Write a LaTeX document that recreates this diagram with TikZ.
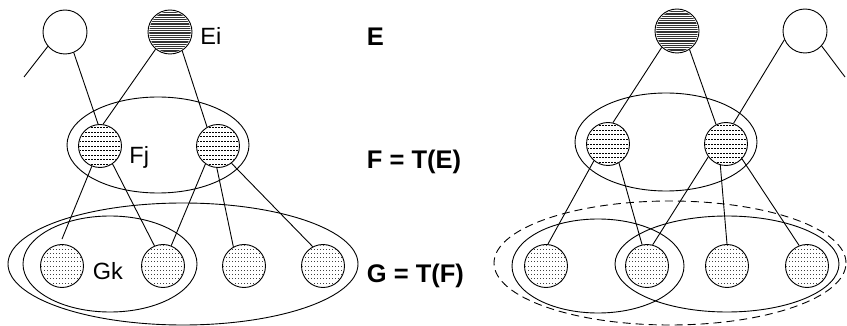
\documentclass[tikz,border=0pt]{standalone}
\usepackage{fontspec}
\setmainfont{Liberation Sans}
\usetikzlibrary{shapes.geometric}
\newcommand{\hatchnode}[3]{%
  \begin{scope}
    \clip (#1.center) circle[radius=20.8];
    \foreach \k in {-14,...,14}
      \draw[#3] (#1.center) ++(-24,\k*#2) -- ++(48,0);
  \end{scope}}
\begin{document}
\begin{tikzpicture}[x=1pt,y=-1pt,
  line width=0.9pt,
  vtx/.style={circle,draw,line width=0.9pt,minimum size=43pt,inner sep=0pt},
  topvtx/.style={vtx,minimum size=44pt},
  grp/.style={ellipse,draw,line width=0.9pt,inner sep=0pt},
  dgrp/.style={grp,dash pattern=on 8pt off 5pt},
  topfill/.style={line width=0.7pt,black!80},
  midfill/.style={line width=0.6pt,black,dash pattern=on 2pt off 1pt},
  lowfill/.style={line width=0.6pt,black!75,dash pattern=on 1pt off 2pt},
  lbl/.style={inner sep=0pt,anchor=base west,font=\fontsize{23.5}{27}\selectfont},
  blbl/.style={inner sep=0pt,anchor=base west,font=\fontsize{25.5}{29}\selectfont\bfseries}]
\useasboundingbox (0,0) rectangle (847,326);

% ---------- left groups ----------
\node[grp,minimum width=182pt,minimum height=96pt] (FL) at (158,145) {};
\node[grp,minimum width=174pt,minimum height=96pt] (GiL) at (110,264) {};
\node[grp,minimum width=350pt,minimum height=122pt] (GoL) at (183,264) {};

% ---------- left nodes ----------
\node[topvtx] (wL) at (65,32) {};
\node[topvtx] (eL) at (170,32) {};
\node[vtx] (f1L) at (100,146) {};
\node[vtx] (f2L) at (218,146) {};
\node[vtx] (g1L) at (62,266) {};
\node[vtx] (g2L) at (163,266) {};
\node[vtx] (g3L) at (244,266) {};
\node[vtx] (g4L) at (323,266) {};
\hatchnode{eL}{1.8}{topfill}
\hatchnode{f1L}{4.6}{midfill}
\hatchnode{f2L}{4.6}{midfill}
\hatchnode{g1L}{4.2}{lowfill}
\hatchnode{g2L}{4.2}{lowfill}
\hatchnode{g3L}{4.2}{lowfill}
\hatchnode{g4L}{4.2}{lowfill}

\coordinate (fwL) at (24,77);
\draw (wL.-140) -- (fwL);
\draw (wL.-67) -- (f1L.95);
\draw (eL.-130) -- (f1L.82);
\draw (eL.-57) -- (f2L.120);
\draw (f1L.-112) -- ([yshift=5pt]g1L.north);
\draw (f1L.-55) -- (g2L.113);
\draw (f2L.-125) -- (g2L.68);
\draw (f2L.-93) -- (g3L.119);
\draw (f2L.-52) -- (g4L.118);

\node[lbl] (lEi) at (200,44.7) {Ei};
\node[lbl] (lFj) at (129,163.5) {Fj};
\node[lbl] (lGk) at (92.5,279.3) {Gk};

% ---------- middle labels ----------
\node[blbl] (lE) at (366.5,45.7) {E};
\node[blbl] (lF) at (366.5,168.3) {F = T(E)};
\node[blbl] (lG) at (366.5,282) {G = T(F)};

% ---------- right groups ----------
\node[grp,minimum width=182pt,minimum height=98pt] (FR) at (666,142) {};
\node[grp,minimum width=172pt,minimum height=94pt] (G1R) at (598,266) {};
\node[grp,minimum width=224pt,minimum height=96pt] (G2R) at (727,264) {};
\node[dgrp,minimum width=352pt,minimum height=124pt] (GdR) at (670,263) {};

% ---------- right nodes ----------
\node[topvtx] (eR) at (677,31) {};
\node[topvtx] (wR) at (805,31) {};
\node[vtx] (f1R) at (608,144) {};
\node[vtx] (f2R) at (726,144) {};
\node[vtx] (g1R) at (546,266) {};
\node[vtx] (g2R) at (647,266) {};
\node[vtx] (g3R) at (727,266) {};
\node[vtx] (g4R) at (807,266) {};
\hatchnode{eR}{1.8}{topfill}
\hatchnode{f1R}{4.6}{midfill}
\hatchnode{f2R}{4.6}{midfill}
\hatchnode{g1R}{4.2}{lowfill}
\hatchnode{g2R}{4.2}{lowfill}
\hatchnode{g3R}{4.2}{lowfill}
\hatchnode{g4R}{4.2}{lowfill}

\coordinate (fwR) at (845,77);
\draw (wR.-42) -- (fwR);
\draw (eR.-133) -- (f1R.77);
\draw (eR.-56) -- (f2R.117);
\draw (wR.-157) -- (f2R.70);
\draw (f1R.-130) -- (g1R.85);
\draw (f1R.-60) -- (g2R.103);
\draw (f2R.-144) -- (g2R.75);
\draw (f2R.-105) -- (g3R.90);
\draw (f2R.-43) -- (g4R.111);
\end{tikzpicture}
\end{document}
